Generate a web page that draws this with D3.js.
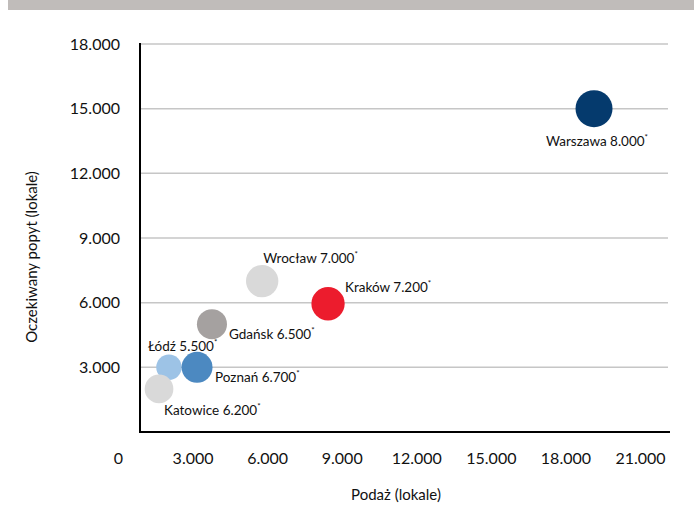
<!DOCTYPE html>
<html>
<head>
<meta charset="utf-8">
<script src="https://cdn.jsdelivr.net/npm/d3@7"></script>
<style>
  html, body { margin: 0; padding: 0; background: #fff; }
  svg { display: block; font-family: Lato, "Open Sans", sans-serif; }
</style>
</head>
<body>
<div id="chart"></div>
<script>
// cities, supply (x), expected demand (y), bubble size (shown in label)
const cities = ['Łódź', 'Katowice', 'Poznań', 'Gdańsk', 'Wrocław', 'Kraków', 'Warszawa'];
const supply = [2050, 1650, 3180, 3780, 5800, 8450, 19150];
const demand = [3000, 2000, 3000, 5000, 7000, 5950, 15000];
const sizes = [5500, 6200, 6700, 6500, 7000, 7200, 8000];
const xTicks = [0, 3000, 6000, 9000, 12000, 15000, 18000, 21000];
const yTicks = [3000, 6000, 9000, 12000, 15000, 18000];

const COLORS = {
  'Łódź': '#9dc3e6', 'Katowice': '#d9d9d9', 'Poznań': '#4c89c1', 'Gdańsk': '#a5a1a0',
  'Wrocław': '#d9d9d9', 'Kraków': '#ec1c2d', 'Warszawa': '#053a6d',
};
// label offsets from bubble centre: [dx, dy, anchor]
const LABEL_POS = {
  'Łódź': [-21, -16, 'start'], 'Katowice': [5, 26, 'start'], 'Poznań': [18, 15, 'start'],
  'Gdańsk': [17, 15, 'start'], 'Wrocław': [1, -18, 'start'], 'Kraków': [17, -12, 'start'],
  'Warszawa': [3, 37, 'middle'],
};

const W = 694, H = 506;
const plot = { left: 140, right: 668, top: 44, bottom: 432 };

const pl = d3.formatLocale({ decimal: ',', thousands: '.', grouping: [3], currency: ['', ' zł'] });
const fmt = pl.format(',');

const svg = d3.select('#chart').append('svg').attr('width', W).attr('height', H);

svg.append('rect').attr('x', 8).attr('y', 0).attr('width', W - 8).attr('height', 10).attr('fill', '#c0bcba');

const x = d3.scaleLinear().domain([0, 21000]).range([118, 640]);
const y = d3.scaleLinear().domain([0, 18000]).range([plot.bottom, plot.top]);
const r = d3.scaleLinear().domain([0, 8000]).range([0, 18.5]);

// gridlines
svg.append('g').selectAll('line').data(yTicks).join('line')
  .attr('x1', plot.left).attr('x2', plot.right)
  .attr('y1', d => y(d)).attr('y2', d => y(d))
  .attr('stroke', '#c6c6c6').attr('stroke-width', 1.5);

// axis frame
svg.append('line').attr('x1', plot.left).attr('x2', plot.left)
  .attr('y1', plot.top - 1).attr('y2', plot.bottom + 1)
  .attr('stroke', '#000').attr('stroke-width', 2);
svg.append('line').attr('x1', plot.left - 1).attr('x2', plot.right + 2)
  .attr('y1', plot.bottom).attr('y2', plot.bottom)
  .attr('stroke', '#000').attr('stroke-width', 2);

const yAxis = svg.append('g').attr('transform', `translate(${plot.left},0)`)
  .call(d3.axisLeft(y).tickValues(yTicks).tickFormat(fmt).tickSize(0).tickPadding(20));
const xAxis = svg.append('g').attr('transform', `translate(0,${plot.bottom})`)
  .call(d3.axisBottom(x).tickValues(xTicks).tickFormat(fmt).tickSize(0).tickPadding(21));
[yAxis, xAxis].forEach(g => {
  g.select('.domain').remove();
  g.selectAll('text').attr('fill', '#111').style('font-size', '16px').style('font-family', 'Lato, sans-serif');
});

svg.append('text').attr('transform', 'translate(37,257) rotate(-90)')
  .attr('text-anchor', 'middle').attr('font-size', 15).attr('fill', '#111')
  .text('Oczekiwany popyt (lokale)');
svg.append('text').attr('x', 396).attr('y', 500)
  .attr('text-anchor', 'middle').attr('font-size', 15).attr('fill', '#111')
  .text('Podaż (lokale)');

const rows = cities.map((c, i) => ({ city: c, sx: supply[i], dy: demand[i], size: sizes[i] }));

svg.append('g').selectAll('circle').data(rows).join('circle')
  .attr('cx', d => x(d.sx)).attr('cy', d => y(d.dy)).attr('r', d => r(d.size))
  .attr('fill', d => COLORS[d.city]);

const lab = svg.append('g').selectAll('text').data(rows).join('text')
  .attr('x', d => x(d.sx) + LABEL_POS[d.city][0])
  .attr('y', d => y(d.dy) + LABEL_POS[d.city][1])
  .attr('text-anchor', d => LABEL_POS[d.city][2])
  .attr('font-size', 13.5).attr('fill', '#111');
lab.append('tspan').text(d => `${d.city} ${fmt(d.size)}`);
lab.append('tspan').attr('font-size', 8).attr('dy', -6).text('*');
</script>
</body>
</html>
